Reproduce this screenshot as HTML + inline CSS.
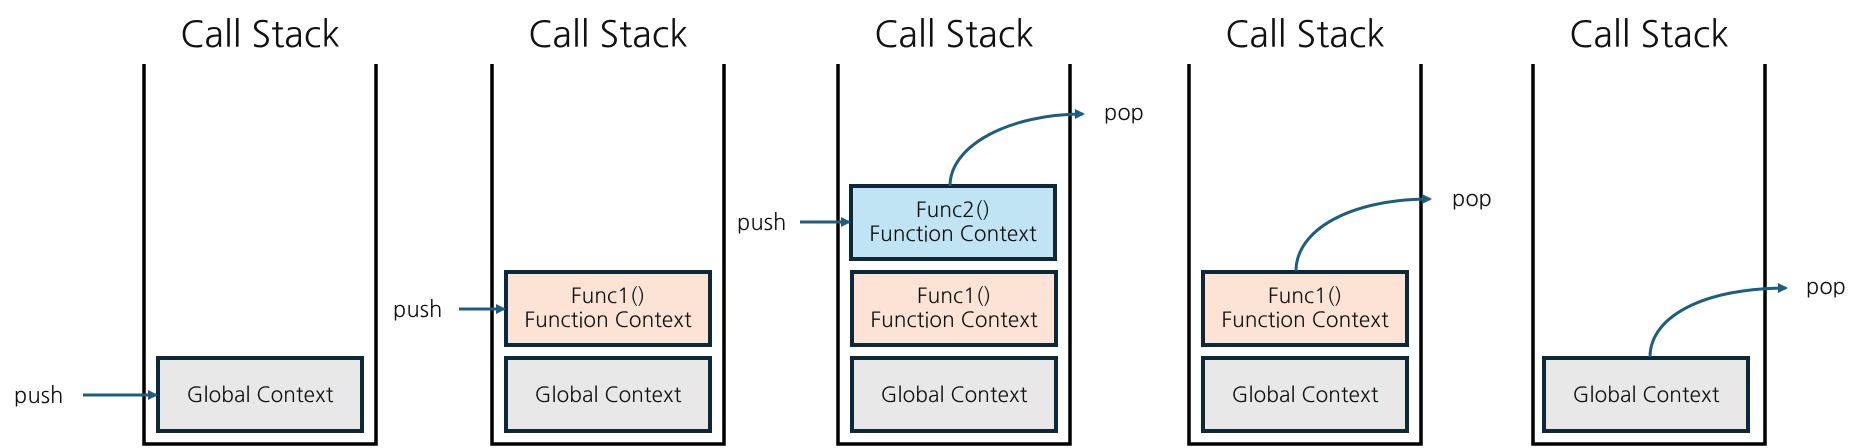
<!DOCTYPE html>
<html><head><meta charset="utf-8"><style>
html,body{margin:0;padding:0;background:#fff;}
svg{display:block;}
text{font-family:"NanumGothic","Liberation Sans",sans-serif;fill:#111;}
.t{font-size:36px;text-anchor:middle;}
.b{font-size:21px;text-anchor:middle;}
.l{font-size:22px;}
.w{stroke:#000;stroke-width:3.5;fill:none;}
.bx{stroke:#0d2838;stroke-width:4;}
.a{stroke:#1d5e80;stroke-width:3;fill:none;}
</style></head><body>
<svg width="1860" height="448" viewBox="0 0 1860 448" xmlns="http://www.w3.org/2000/svg">
<defs>
<marker id="ah" markerWidth="10" markerHeight="10" refX="8" refY="5" orient="auto" markerUnits="userSpaceOnUse" viewBox="0 0 10 10">
<path d="M0,0 L10,5 L0,10 Z" fill="#1d5e80"/>
</marker>
</defs>
<!-- titles -->
<text class="t" x="260" y="47">Call Stack</text>
<text class="t" x="608" y="47">Call Stack</text>
<text class="t" x="954" y="47">Call Stack</text>
<text class="t" x="1305" y="47">Call Stack</text>
<text class="t" x="1649" y="47">Call Stack</text>
<!-- stacks -->
<path class="w" d="M144,64 V444 H376 V64"/>
<path class="w" d="M492,64 V444 H724 V64"/>
<path class="w" d="M838,64 V444 H1070 V64"/>
<path class="w" d="M1189,64 V444 H1421 V64"/>
<path class="w" d="M1533,64 V444 H1765 V64"/>

<!-- stack 1 -->
<rect class="bx" x="158" y="358" width="204" height="73" fill="#e8e8e8"/>
<text class="b" x="260" y="402">Global Context</text>
<text class="l" x="14" y="403">push</text>
<line class="a" x1="83" y1="395" x2="156" y2="395" marker-end="url(#ah)"/>

<!-- stack 2 -->
<rect class="bx" x="506" y="272" width="204" height="73" fill="#fce3d6"/>
<text class="b" x="608" y="303">Func1()</text>
<text class="b" x="608" y="327">Function Context</text>
<rect class="bx" x="506" y="358" width="204" height="73" fill="#e8e8e8"/>
<text class="b" x="608" y="402">Global Context</text>
<text class="l" x="393" y="317">push</text>
<line class="a" x1="459" y1="309" x2="504" y2="309" marker-end="url(#ah)"/>

<!-- stack 3 -->
<rect class="bx" x="851" y="186" width="204" height="73" fill="#c0e4f4"/>
<text class="b" x="953" y="217">Func2()</text>
<text class="b" x="953" y="241">Function Context</text>
<rect class="bx" x="852" y="272" width="204" height="73" fill="#fce3d6"/>
<text class="b" x="954" y="303">Func1()</text>
<text class="b" x="954" y="327">Function Context</text>
<rect class="bx" x="852" y="358" width="204" height="73" fill="#e8e8e8"/>
<text class="b" x="954" y="402">Global Context</text>
<text class="l" x="737" y="230">push</text>
<line class="a" x1="800" y1="222" x2="849" y2="222" marker-end="url(#ah)"/>
<path class="a" d="M950,186 C950,145 1010,114 1083,114" marker-end="url(#ah)"/>
<text class="l" x="1104" y="120">pop</text>

<!-- stack 4 -->
<rect class="bx" x="1203" y="272" width="204" height="73" fill="#fce3d6"/>
<text class="b" x="1305" y="303">Func1()</text>
<text class="b" x="1305" y="327">Function Context</text>
<rect class="bx" x="1203" y="358" width="204" height="73" fill="#e8e8e8"/>
<text class="b" x="1305" y="402">Global Context</text>
<path class="a" d="M1296,271 C1296,230 1350,199 1430,199" marker-end="url(#ah)"/>
<text class="l" x="1452" y="206">pop</text>

<!-- stack 5 -->
<rect class="bx" x="1544" y="358" width="204" height="73" fill="#e8e8e8"/>
<text class="b" x="1646" y="402">Global Context</text>
<path class="a" d="M1650,357 C1650,316 1705,288 1786,288" marker-end="url(#ah)"/>
<text class="l" x="1806" y="294">pop</text>
</svg>
</body></html>
